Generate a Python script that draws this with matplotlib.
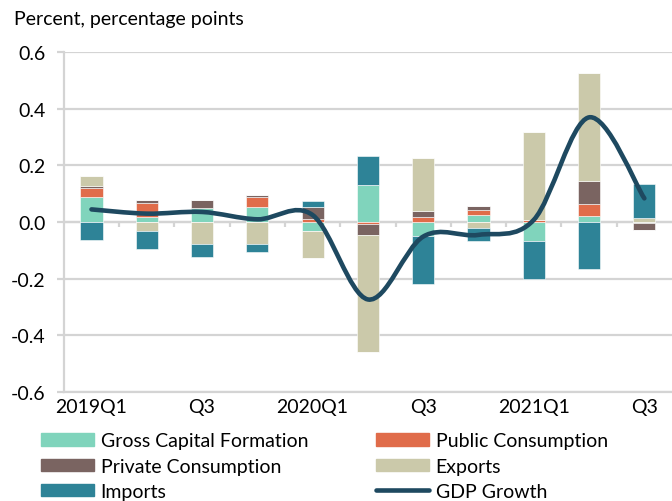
import numpy as np
import matplotlib
matplotlib.use("Agg")
from matplotlib import pyplot as plt
from matplotlib.path import Path
from matplotlib.patches import PathPatch, Patch
from matplotlib.lines import Line2D

plt.rcParams['font.family'] = ['Lato', 'DejaVu Sans']

quarters = ['2019Q1', '2019Q2', '2019Q3', '2019Q4', '2020Q1', '2020Q2',
            '2020Q3', '2020Q4', '2021Q1', '2021Q2', '2021Q3']
tick_labels = ['2019Q1', '', 'Q3', '', '2020Q1', '', 'Q3', '', '2021Q1', '', 'Q3']

gross_capital = [0.090, 0.018, 0.051, 0.055, -0.030, 0.130, -0.049, 0.026, -0.065, 0.023, -0.004]
public_cons   = [0.029, 0.049, 0.000, 0.035, 0.012, -0.007, 0.019, 0.016, 0.007, 0.040, 0.000]
private_cons  = [0.009, 0.012, 0.027, 0.006, 0.041, -0.037, 0.021, 0.015, 0.000, 0.083, -0.023]
exports       = [0.035, -0.033, -0.076, -0.077, -0.096, -0.414, 0.185, -0.020, 0.312, 0.381, 0.014]
imports       = [-0.063, -0.062, -0.047, -0.029, 0.023, 0.105, -0.171, -0.048, -0.137, -0.166, 0.119]
gdp_growth    = [0.045, 0.030, 0.036, 0.010, 0.025, -0.273, -0.051, -0.045, 0.008, 0.370, 0.084]

series = [
    ('Gross Capital Formation', gross_capital, '#80d4bc'),
    ('Public Consumption', public_cons, '#e06c4a'),
    ('Private Consumption', private_cons, '#7a6461'),
    ('Exports', exports, '#cbc9aa'),
    ('Imports', imports, '#2e8397'),
]
line_color = '#1e4960'
grid_color = '#d4d4d4'
fs = 14

fig = plt.figure(figsize=(6.72, 5.02), dpi=100)
ax = fig.add_axes([0.095, 0.217, 0.905, 0.677])

x = np.arange(len(quarters))
pos_base = np.zeros(len(x))
neg_base = np.zeros(len(x))
for name, vals, color in series:
    v = np.array(vals)
    pos = np.where(v > 0, v, 0)
    neg = np.where(v < 0, v, 0)
    ax.bar(x, pos, 0.4, bottom=pos_base, color=color, edgecolor='white', linewidth=0.4, zorder=3)
    ax.bar(x, neg, 0.4, bottom=neg_base, color=color, edgecolor='white', linewidth=0.4, zorder=3)
    pos_base += pos
    neg_base += neg

# smoothed GDP line (Excel-style bezier smoothing)
p = np.column_stack([x, gdp_growth]).astype(float)
ext = np.vstack([p[0], p, p[-1]])
verts = [p[0]]
codes = [Path.MOVETO]
for i in range(len(p) - 1):
    c1 = ext[i + 1] + (ext[i + 2] - ext[i]) / 6
    c2 = ext[i + 2] - (ext[i + 3] - ext[i + 1]) / 6
    verts += [c1, c2, ext[i + 2]]
    codes += [Path.CURVE4] * 3
ax.add_patch(PathPatch(Path(verts, codes), fill=False, edgecolor=line_color,
                       linewidth=3.3, capstyle='round', joinstyle='round', zorder=5))

ax.set_xlim(-0.5, len(x) - 0.5)
ax.set_ylim(-0.6, 0.6)
ax.set_yticks(np.arange(-0.6, 0.61, 0.2))
ax.set_yticklabels(['-0.6', '-0.4', '-0.2', '0.0', '0.2', '0.4', '0.6'])
ax.set_xticks(x)
ax.set_xticklabels(tick_labels)
ax.yaxis.grid(True, color=grid_color, linewidth=1.6, zorder=0)
ax.set_axisbelow(True)
for s in ['top', 'right']:
    ax.spines[s].set_visible(False)
for s in ['left', 'bottom']:
    ax.spines[s].set_color(grid_color)
    ax.spines[s].set_linewidth(1.6)
ax.tick_params(axis='x', length=0, labelsize=fs, pad=4)
ax.tick_params(axis='y', length=5, width=1.6, color=grid_color, labelsize=fs, pad=8)

# category axis at zero with tick marks between categories
ax.axhline(0, color=grid_color, linewidth=1.6, zorder=1)
ax.vlines(x[:-1] + 0.5, -0.018, 0, color=grid_color, linewidth=1.6, zorder=1)

fig.text(0.021, 0.962, 'Percent, percentage points', fontsize=fs, va='center')

h = {name: Patch(color=color) for name, vals, color in series}
h['GDP Growth'] = Line2D([], [], color=line_color, linewidth=3.3, solid_capstyle='round')
order = ['Gross Capital Formation', 'Private Consumption', 'Imports',
         'Public Consumption', 'Exports', 'GDP Growth']
fig.legend([h[k] for k in order], order, loc='upper left', bbox_to_anchor=(0.05, 0.152),
           ncol=2, frameon=False, fontsize=fs, handlelength=2.7, handleheight=0.6,
           handletextpad=0.35, columnspacing=3.5, labelspacing=0.42, borderaxespad=0)

fig.savefig('out.png', dpi=100)
